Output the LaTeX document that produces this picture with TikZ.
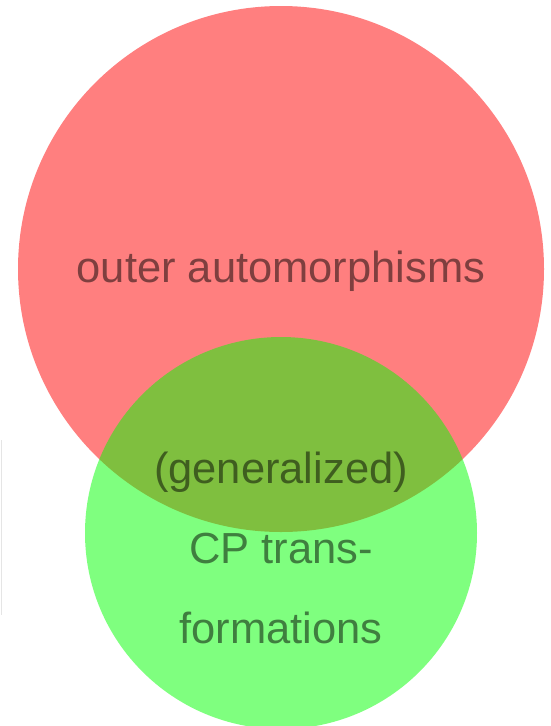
\documentclass[tikz,border=0pt]{standalone}
\usepackage{fontspec}
\setmainfont{Liberation Sans}
\begin{document}
\begin{tikzpicture}[x=1pt,y=-1pt,
  set node/.style={circle,inner sep=0pt,fill opacity=0.5,text opacity=0.5},
  set label/.style={font=\fontsize{43.5}{80}\selectfont,text=black,text opacity=0.5,align=center}]
  \useasboundingbox (0,0) rectangle (550,726);
%outer
  \node[set node,fill=red,minimum size=526pt] (outer) at (281,269) {};
  \node[set label,anchor=base] (outertext) at (281,282) {outer automorphisms};
%cp
  \node[set node,fill=green,minimum size=392pt] (cp) at (281,533) {};
  \node[set label,anchor=base] (cptext) at (281,643) {(generalized)\\CP trans-\\formations};
%edge
  \draw[black!10,line width=1.5pt] (1.5,440) -- (1.5,615);
\end{tikzpicture}
\end{document}
